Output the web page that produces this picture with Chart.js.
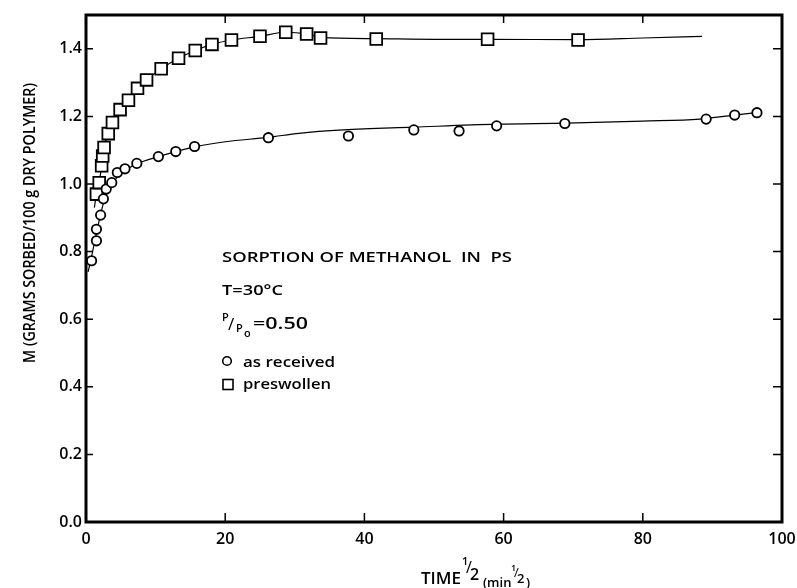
<!DOCTYPE html>
<html>
<head>
<meta charset="utf-8">
<script src="https://cdn.jsdelivr.net/npm/chart.js@4/dist/chart.umd.min.js"></script>
<style>
  html, body { margin: 0; padding: 0; background: #fff; }
  canvas { display: block; }
</style>
</head>
<body>
<canvas id="sorption" width="797" height="588"></canvas>
<script>
const FONT = '"Open Sans", "DejaVu Sans", sans-serif';

// axis ticks
const xTicks = [0, 20, 40, 60, 80, 100];
const yTicks = [0, 0.2, 0.4, 0.6, 0.8, 1.0, 1.2, 1.4];

// measured points, "as received" (circles)
const recvX = [0.8, 1.5, 1.5, 2.1, 2.5, 2.9, 3.7, 4.5, 5.6, 7.3, 10.4, 12.9, 15.6,
  26.2, 37.7, 47.1, 53.6, 59.0, 68.8, 89.1, 93.2, 96.4];
const recvY = [0.773, 0.832, 0.866, 0.908, 0.956, 0.985, 1.004, 1.034, 1.045, 1.061, 1.081, 1.096, 1.111,
  1.137, 1.142, 1.160, 1.157, 1.172, 1.179, 1.192, 1.204, 1.211];

// measured points, "preswollen" (squares)
const presX = [1.5, 1.9, 2.25, 2.4, 2.6, 3.2, 3.8, 4.9, 6.1, 7.4, 8.7, 10.8, 13.3,
  15.7, 18.1, 20.9, 25.0, 28.7, 31.7, 33.7, 41.7, 57.7, 70.7];
const presY = [0.97, 1.004, 1.054, 1.083, 1.108, 1.149, 1.182, 1.220, 1.248, 1.283, 1.308, 1.341, 1.372,
  1.395, 1.413, 1.426, 1.437, 1.449, 1.444, 1.432, 1.429, 1.428, 1.426];

// hand-drawn smooth curves
const recvCurveX = [0.3, 0.8, 1.5, 2.1, 2.6, 3.2, 4, 5, 6, 7.3, 10.4, 12.9, 15.6, 20, 26.2,
  30.6, 37, 47, 59, 69, 80, 88.2, 93.2, 96.4];
const recvCurveY = [0.74, 0.785, 0.855, 0.91, 0.95, 0.98, 1.008, 1.03, 1.045, 1.06, 1.081, 1.096, 1.11, 1.125, 1.138,
  1.15, 1.16, 1.168, 1.177, 1.18, 1.186, 1.192, 1.204, 1.211];
const presCurveX = [1.2, 1.5, 1.9, 2.25, 2.6, 3.2, 3.8, 4.9, 6.1, 7.4, 8.7, 10.8, 13.3,
  15.7, 18.1, 20.9, 25, 28.7, 31.7, 33.7, 41.7, 50, 57.7, 70.7, 80, 88.5];
const presCurveY = [0.93, 0.97, 1.004, 1.054, 1.108, 1.149, 1.182, 1.22, 1.248, 1.283, 1.308, 1.341, 1.372,
  1.395, 1.413, 1.426, 1.437, 1.449, 1.444, 1.434, 1.43, 1.428, 1.428, 1.427, 1.432, 1.437];

const noteTitle = 'SORPTION OF METHANOL  IN  PS';
const noteTemp = 'T=30°C';
const noteRatio = '=0.50';
const legendRecv = 'as received';
const legendPres = 'preswollen';
const yTitle = 'M (GRAMS SORBED/100 g DRY POLYMER)';

const pts = (xs, ys) => xs.map((x, i) => ({ x, y: ys[i] }));

// text squeezed/stretched to a given width
function fitText(ctx, text, x, y, width) {
  const w = ctx.measureText(text).width;
  ctx.save();
  ctx.translate(x, y);
  ctx.scale(width / w, 1);
  ctx.fillText(text, 0, 0);
  ctx.restore();
}

const decor = {
  id: 'decor',
  afterDraw(chart) {
    const { ctx, chartArea: a, scales } = chart;
    ctx.save();
    ctx.strokeStyle = '#000';
    ctx.fillStyle = '#000';

    // inward tick marks on all four sides
    ctx.lineWidth = 1.5;
    ctx.beginPath();
    xTicks.slice(1, -1).forEach(v => {
      const px = scales.x.getPixelForValue(v);
      ctx.moveTo(px, a.bottom); ctx.lineTo(px, a.bottom - 9);
      ctx.moveTo(px, a.top); ctx.lineTo(px, a.top + 8);
    });
    yTicks.slice(1).forEach(v => {
      const py = scales.y.getPixelForValue(v);
      ctx.moveTo(a.left, py); ctx.lineTo(a.left + 7, py);
      ctx.moveTo(a.right, py); ctx.lineTo(a.right - 9, py);
    });
    ctx.stroke();

    // frame
    ctx.lineWidth = 3;
    ctx.strokeRect(a.left, a.top, a.right - a.left, a.bottom - a.top);

    // notes
    ctx.textBaseline = 'alphabetic';
    ctx.textAlign = 'left';
    ctx.font = '600 15px ' + FONT;
    fitText(ctx, noteTitle, 222, 262, 290);
    fitText(ctx, noteTemp, 222, 295, 61);

    ctx.font = '600 11px ' + FONT;
    ctx.fillText('P', 222, 321);
    ctx.fillText('P', 236, 332);
    ctx.fillText('o', 244, 337);
    ctx.font = '400 17px ' + FONT;
    ctx.fillText('/', 228, 330);
    ctx.font = '600 16px ' + FONT;
    fitText(ctx, noteRatio, 253, 329, 55);

    ctx.font = '600 15px ' + FONT;
    fitText(ctx, legendRecv, 243, 367, 92);
    fitText(ctx, legendPres, 243, 389, 88);
    ctx.lineWidth = 1.6;
    ctx.beginPath();
    ctx.arc(227, 361, 4.3, 0, Math.PI * 2);
    ctx.stroke();
    ctx.strokeRect(223, 379.5, 10, 10);

    // x title: TIME^1/2 (min^1/2)
    ctx.font = '600 16px ' + FONT;
    fitText(ctx, 'TIME', 421, 584, 40);
    ctx.font = '600 11px ' + FONT;
    ctx.fillText('1', 462, 565);
    ctx.font = '400 16px ' + FONT;
    ctx.fillText('/', 466, 573);
    ctx.font = '600 16px ' + FONT;
    ctx.fillText('2', 470, 580);
    ctx.font = '600 13px ' + FONT;
    ctx.fillText('(min', 483, 587);
    ctx.font = '600 9px ' + FONT;
    ctx.fillText('1', 511, 571);
    ctx.font = '400 13px ' + FONT;
    ctx.fillText('/', 514, 577);
    ctx.font = '600 13px ' + FONT;
    ctx.fillText('2', 517, 583);
    ctx.fillText(')', 526, 587);

    // y title
    ctx.translate(30, 223);
    ctx.rotate(-Math.PI / 2);
    ctx.textAlign = 'left';
    ctx.textBaseline = 'middle';
    ctx.font = '600 17px ' + FONT;
    fitText(ctx, yTitle, -140, 0, 280);
    ctx.restore();
  }
};

new Chart(document.getElementById('sorption'), {
  type: 'scatter',
  data: {
    datasets: [
      {
        label: 'as received',
        data: pts(recvX, recvY),
        pointStyle: 'circle',
        pointRadius: 4.7,
        borderWidth: 1.8,
        borderColor: '#000',
        backgroundColor: '#fff',
        order: 0
      },
      {
        label: 'preswollen',
        data: pts(presX, presY),
        pointStyle: 'rect',
        pointRadius: 8.3,
        borderWidth: 1.8,
        borderColor: '#000',
        backgroundColor: '#fff',
        order: 0
      },
      {
        label: 'as received curve',
        data: pts(recvCurveX, recvCurveY),
        showLine: true,
        pointRadius: 0,
        borderColor: '#000',
        borderWidth: 1.2,
        cubicInterpolationMode: 'monotone',
        order: 1
      },
      {
        label: 'preswollen curve',
        data: pts(presCurveX, presCurveY),
        showLine: true,
        pointRadius: 0,
        borderColor: '#000',
        borderWidth: 1.2,
        cubicInterpolationMode: 'monotone',
        order: 1
      }
    ]
  },
  options: {
    responsive: false,
    animation: false,
    layout: { padding: { left: 0, top: 15, right: 15, bottom: 0 } },
    plugins: {
      legend: { display: false },
      tooltip: { enabled: false }
    },
    scales: {
      x: {
        type: 'linear',
        min: 0,
        max: 100,
        afterFit: s => { s.height = 66; s.paddingLeft = 0; s.paddingRight = 0; },
        afterBuildTicks: s => { s.ticks = xTicks.map(v => ({ value: v })); },
        grid: { display: false, drawTicks: false },
        border: { display: false },
        ticks: { color: '#000', padding: 8, maxRotation: 0, font: { family: FONT, size: 16, weight: '600' } }
      },
      y: {
        type: 'linear',
        min: 0,
        max: 1.5,
        afterFit: s => { s.width = 86; s.paddingTop = 0; s.paddingBottom = 0; },
        afterBuildTicks: s => { s.ticks = yTicks.map(v => ({ value: v })); },
        grid: { display: false, drawTicks: false },
        border: { display: false },
        ticks: {
          color: '#000',
          padding: 4,
          font: { family: FONT, size: 16, weight: '600' },
          callback: v => v.toFixed(1)
        }
      }
    }
  },
  plugins: [decor]
});
</script>
</body>
</html>
